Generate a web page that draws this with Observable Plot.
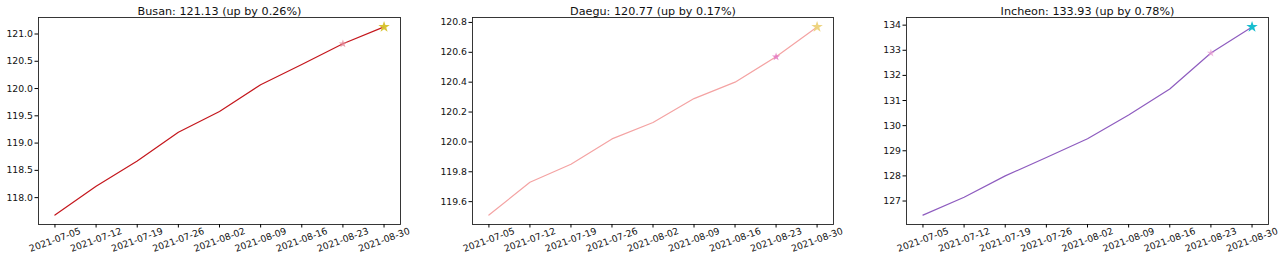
<!DOCTYPE html>
<html>
<head>
<meta charset="utf-8">
<script src="https://cdn.jsdelivr.net/npm/d3@7"></script>
<script src="https://cdn.jsdelivr.net/npm/@observablehq/plot@0.6"></script>
<style>
  body { margin: 0; background: #fff; }
  #wrap { position: relative; width: 1280px; height: 265px; overflow: hidden; font-family: "DejaVu Sans", sans-serif; }
  .panel { position: absolute; top: 0; }
</style>
</head>
<body>
<div id="wrap"></div>
<script>
// ---- data ----
const dates = ["2021-07-05", "2021-07-12", "2021-07-19", "2021-07-26", "2021-08-02", "2021-08-09", "2021-08-16", "2021-08-23", "2021-08-30"];
const cities = ["Busan", "Daegu", "Incheon"];
const busan   = [117.68, 118.21, 118.67, 119.20, 119.58, 120.07, 120.44, 120.82, 121.13];
const daegu   = [119.51, 119.73, 119.85, 120.02, 120.13, 120.29, 120.40, 120.57, 120.77];
const incheon = [126.44, 127.15, 128.00, 128.73, 129.48, 130.42, 131.46, 132.89, 133.93];
const changes = [0.26, 0.17, 0.78];
const busanTicks   = [118.0, 118.5, 119.0, 119.5, 120.0, 120.5, 121.0];
const daeguTicks   = [119.6, 119.8, 120.0, 120.2, 120.4, 120.6, 120.8];
const incheonTicks = [127, 128, 129, 130, 131, 132, 133, 134];

// ---- styles / layout ----
const series = [busan, daegu, incheon];
const yTicks = [busanTicks, daeguTicks, incheonTicks];
const yFormats = [".1f", ".1f", "d"];
const lineColors = ["#c4161c", "#f4a3a3", "#8e5cbf"];
const prevStar = [{fill: "#e58a9a", opacity: 0.8}, {fill: "#e377c2", opacity: 0.85}, {fill: "#eaa0d4", opacity: 0.75}];
const lastStar = [{fill: "#d6c12a", opacity: 0.95}, {fill: "#ecd27a", opacity: 0.95}, {fill: "#17becf", opacity: 1}];
const panelLeft = [0, 420, 850];
const panelWidth = [420, 430, 430];
const marginLeft = [38, 52, 56];
const marginRight = [20, 17, 12];

const parse = d3.utcParse("%Y-%m-%d");
const xDates = dates.map(parse);
const xPad = (xDates[xDates.length - 1] - xDates[0]) * 0.05;
const xDomain = [new Date(+xDates[0] - xPad), new Date(+xDates[xDates.length - 1] + xPad)];

const wrap = document.getElementById("wrap");

cities.forEach((city, i) => {
  const vals = series[i];
  const rows = xDates.map((d, j) => ({date: d, value: vals[j]}));
  const n = rows.length;
  const [lo, hi] = d3.extent(vals);
  const yPad = (hi - lo) * 0.05;
  const title = `${city}: ${vals[n - 1].toFixed(2)} (up by ${changes[i].toFixed(2)}%)`;

  const chart = Plot.plot({
    width: panelWidth[i],
    height: 265,
    marginTop: 17,
    marginBottom: 41,
    marginLeft: marginLeft[i],
    marginRight: marginRight[i],
    style: {fontFamily: "DejaVu Sans, sans-serif", background: "transparent", overflow: "visible"},
    x: {type: "utc", domain: xDomain},
    y: {domain: [lo - yPad, hi + yPad]},
    marks: [
      Plot.frame({stroke: "#222", strokeWidth: 0.9}),
      Plot.axisX({
        ticks: xDates,
        tickFormat: d3.utcFormat("%Y-%m-%d"),
        tickRotate: -20,
        textAnchor: "middle",
        lineAnchor: "middle",
        tickSize: 3.5,
        tickPadding: 12,
        fontSize: 9.3,
        fill: "#111",
        label: null
      }),
      Plot.axisY({
        ticks: yTicks[i],
        tickFormat: d3.format(yFormats[i]),
        tickSize: 3.5,
        tickPadding: 2,
        fontSize: 9.3,
        fill: "#111",
        label: null
      }),
      Plot.line(rows, {x: "date", y: "value", stroke: lineColors[i], strokeWidth: 1.2}),
      Plot.dot([rows[n - 2]], {x: "date", y: "value", symbol: "star", r: 2.6, fill: prevStar[i].fill, fillOpacity: prevStar[i].opacity, stroke: "none"}),
      Plot.dot([rows[n - 1]], {x: "date", y: "value", symbol: "star", r: 3.6, fill: lastStar[i].fill, fillOpacity: lastStar[i].opacity, stroke: "none"}),
      Plot.text([title], {frameAnchor: "top", dy: -10, fontSize: 11.2, fill: "#111"})
    ]
  });
  chart.classList.add("panel");
  chart.style.left = panelLeft[i] + "px";
  wrap.appendChild(chart);
});
</script>
</body>
</html>
